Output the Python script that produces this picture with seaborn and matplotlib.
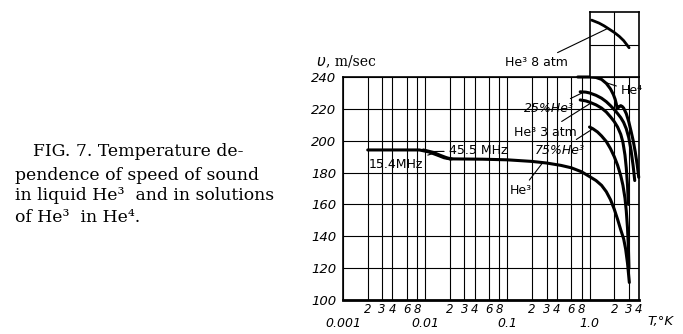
import matplotlib
matplotlib.use("Agg")
import matplotlib.pyplot as plt
import pandas as pd
import seaborn as sns

# ---------------- data ----------------
he3_T = [0.02, 0.05, 0.1, 0.2, 0.3, 0.45, 0.6, 0.8, 1.0, 1.2, 1.4, 1.6, 1.8, 2.0, 2.2, 2.4, 2.6, 2.75, 2.9, 3.0, 3.05]
he3_v = [188.6, 188.4, 188.0, 187.0, 186.0, 184.5, 183.0, 180.5, 177.5, 175.0, 172.0, 168.0, 163.0, 157.0, 150.5, 144.0, 138.5, 132.0, 123.0, 115.0, 111.0]
he3_154_T = [0.002, 0.0085, 0.011, 0.014, 0.017, 0.02]
he3_154_v = [194.2, 194.2, 193.0, 191.0, 189.3, 188.6]
he3_455_T = [0.0095, 0.0125, 0.0155, 0.0185, 0.021]
he3_455_v = [194.2, 192.7, 190.7, 189.2, 188.6]
he3_3atm_T = [0.77, 0.9, 1.0, 1.2, 1.4, 1.6, 1.8, 2.0, 2.2, 2.4, 2.55, 2.7, 2.8, 2.9, 2.97]
he3_3atm_v = [225.6, 225.0, 224.2, 222.5, 220.5, 218.0, 215.0, 212.0, 208.5, 204.0, 199.0, 191.0, 183.0, 172.0, 160.0]
mix25_T = [0.77, 0.9, 1.0, 1.2, 1.4, 1.6, 1.8, 2.0, 2.2, 2.4, 2.6, 2.8, 3.0, 3.2, 3.4, 3.55]
mix25_v = [230.7, 230.5, 230.0, 228.5, 226.7, 224.5, 222.0, 219.5, 217.0, 214.5, 211.5, 207.5, 202.0, 194.0, 184.0, 175.0]
mix75_T = [1.0, 1.1, 1.25, 1.4, 1.6, 1.8, 2.0, 2.2, 2.4, 2.55, 2.7, 2.8, 2.9, 2.97, 3.02]
mix75_v = [208.6, 207.5, 205.5, 203.0, 199.5, 195.0, 190.0, 184.5, 178.0, 172.0, 164.0, 156.0, 145.0, 133.0, 120.0]
he4_T = [0.72, 1.0, 1.2, 1.4, 1.6, 1.8, 1.95, 2.05, 2.12, 2.17, 2.22, 2.3, 2.4, 2.5, 2.6, 2.8, 3.0, 3.2, 3.4, 3.6, 3.8, 3.97]
he4_v = [240.0, 240.0, 239.7, 238.5, 236.0, 232.5, 229.0, 226.0, 223.0, 220.0, 220.5, 221.5, 222.0, 221.5, 220.5, 217.0, 212.0, 206.0, 200.0, 193.0, 185.0, 177.0]
he3_8atm_T = [1.06, 1.3, 1.5, 1.74, 2.0, 2.3, 2.6, 3.03]
he3_8atm_v = [275.0, 273.2, 271.5, 269.4, 267.4, 265.0, 262.4, 258.0]

y_ticks = [100, 120, 140, 160, 180, 200, 220, 240]
x_major = [0.001, 0.01, 0.1, 1.0]
x_major_labels = ["0.001", "0.01", "0.1", "1.0"]
x_minor = [0.002, 0.003, 0.004, 0.006, 0.008,
           0.02, 0.03, 0.04, 0.06, 0.08,
           0.2, 0.3, 0.4, 0.6, 0.8,
           2.0, 3.0, 4.0]
x_minor_labels = ["2", "3", "4", "6", "8"] * 3 + ["2", "3", "4"]

caption_lines = ["FIG. 7. Temperature de-",
                 "pendence of speed of sound",
                 "in liquid He\u00b3  and in solutions",
                 "of He\u00b3  in He\u2074."]

# ---------------- build tables ----------------
series = {
    "He3": (he3_T, he3_v),
    "He3 15.4": (he3_154_T, he3_154_v),
    "He3 45.5": (he3_455_T, he3_455_v),
    "He3 3atm": (he3_3atm_T, he3_3atm_v),
    "25%": (mix25_T, mix25_v),
    "75%": (mix75_T, mix75_v),
    "He4": (he4_T, he4_v),
}
rows = []
for name, (ts, vs) in series.items():
    for t, v in zip(ts, vs):
        rows.append({"series": name, "T": t, "v": v})
df = pd.DataFrame(rows)
df_in = pd.DataFrame({"series": "He3 8atm", "T": he3_8atm_T, "v": he3_8atm_v})

sns.set_style("white")
plt.rcParams["font.family"] = ["DejaVu Sans"]
plt.rcParams["text.color"] = "black"
plt.rcParams["xtick.color"] = "black"
plt.rcParams["ytick.color"] = "black"

W, H = 683, 334
fig = plt.figure(figsize=(W / 100, H / 100), dpi=100)
ax = fig.add_axes([343 / W, 34 / H, 296 / W, 223 / H])
axi = fig.add_axes([589.6 / W, 257 / H, 49.4 / W, 65 / H])

pal = {k: "black" for k in series}
sns.lineplot(data=df, x="T", y="v", hue="series", units="series", estimator=None,
             sort=False, palette=pal, legend=False, linewidth=2.2, ax=ax)
sns.lineplot(data=df_in, x="T", y="v", hue="series", estimator=None, sort=False,
             palette={"He3 8atm": "black"}, legend=False, linewidth=2.0, ax=axi)
for ln in ax.lines:
    ln.set_clip_on(False)
    ln.set_solid_joinstyle("round")

# main axes
ax.set_xscale("log")
ax.set_xlim(0.001, 4.0)
ax.set_ylim(100, 240)
ax.set_xlabel("")
ax.set_ylabel("")
ax.set_yticks(y_ticks)
ax.set_yticklabels([str(t) for t in y_ticks], fontstyle="italic", fontsize=9.5)
ax.set_xticks(x_major)
ax.set_xticklabels(x_major_labels, fontstyle="italic", fontsize=9)
ax.set_xticks(x_minor, minor=True)
ax.set_xticklabels(x_minor_labels, minor=True, fontstyle="italic", fontsize=8.5)
ax.tick_params(axis="x", which="major", direction="out", length=5, width=1.0, pad=7, colors="black")
ax.tick_params(axis="x", which="minor", length=0, pad=2.5, colors="black")
ax.tick_params(axis="y", which="major", direction="out", length=2, width=1.0, pad=3, colors="black")
ax.grid(True, which="both", axis="x", color="black", linewidth=0.8)
ax.grid(True, which="major", axis="y", color="black", linewidth=0.8)
for s in ["left", "right", "top"]:
    ax.spines[s].set_color("black")
    ax.spines[s].set_linewidth(1.2)
ax.spines["bottom"].set_color("black")
ax.spines["bottom"].set_linewidth(2.0)

# inset (extension above 240)
axi.set_xscale("log")
axi.set_xlim(1.0, 4.0)
axi.set_ylim(240, 280)
axi.set_xlabel("")
axi.set_ylabel("")
axi.set_xticks([2.0])
axi.set_xticks([], minor=True)
axi.set_yticks([260])
axi.set_xticklabels([])
axi.set_yticklabels([])
axi.tick_params(length=0)
axi.grid(True, color="black", linewidth=0.8)
for s in axi.spines.values():
    s.set_color("black")
    s.set_linewidth(1.2)

# axis titles
fig.text(316 / W, 1 - 62 / H, "$\\upsilon$", fontsize=11, ha="left", va="center")
fig.text(326 / W, 1 - 61 / H, ", m/sec", fontsize=10, ha="left", va="center",
         family=["DejaVu Serif"])
fig.text(660 / W, 1 - 321 / H, "T,\u00b0K", fontsize=9.5, fontstyle="italic", ha="center", va="center")

# curve labels with leader lines
lead = dict(arrowstyle="-", color="black", lw=0.8, shrinkA=1, shrinkB=0)
lab_font = dict(fontsize=9, ha="center", va="center", annotation_clip=False)


def label(target_ax, text, xy, pos, **kw):
    opts = dict(lab_font)
    opts.update(kw)
    target_ax.annotate(text, xy=xy, xycoords="data", xytext=(pos[0], H - pos[1]),
                       textcoords="figure pixels", arrowprops=lead, **opts)


label(axi, "He\u00b3 8 atm", (1.65, 269.8), (536, 63))
label(ax, "He\u2074", (1.55, 236.6), (632, 91))
label(ax, "25%He\u00b3", (0.85, 230.5), (549, 109), fontstyle="italic")
label(ax, "He\u00b3 3 atm", (1.05, 223.8), (545, 132))
label(ax, "75%He\u00b3", (1.1, 207.5), (560, 150), fontstyle="italic")
label(ax, "He\u00b3", (0.27, 186.3), (521, 191))
label(ax, "45.5 MHz", (0.0118, 193.2), (478, 151))
label(ax, "15.4MHz", (0.0125, 192.0), (396, 165))

# caption
cap_y = [152, 175, 196, 217]
cap_x = [33, 15, 15, 15]
for txt, cx, cy in zip(caption_lines, cap_x, cap_y):
    fig.text(cx / W, 1 - cy / H, txt, fontsize=12.4, ha="left", va="center",
             family=["DejaVu Serif"])

fig.savefig("out.png", dpi=100)
